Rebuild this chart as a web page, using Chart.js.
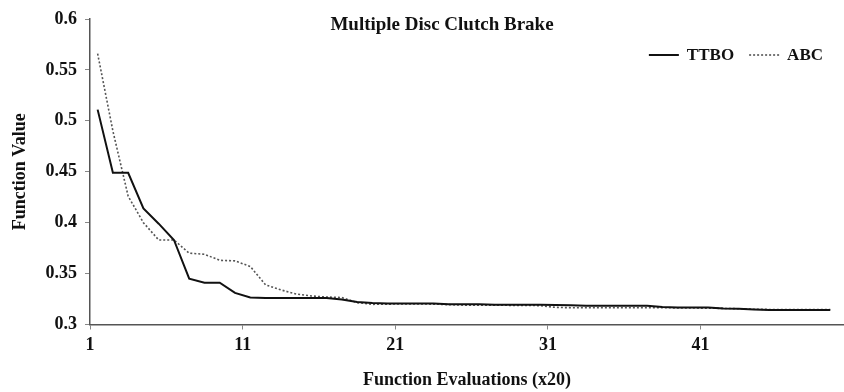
<!DOCTYPE html>
<html>
<head>
<meta charset="utf-8">
<script src="https://cdn.jsdelivr.net/npm/chart.js@4/dist/chart.umd.min.js"></script>
<style>
  html, body { margin: 0; padding: 0; background: #fff; }
  #wrap { width: 844px; height: 392px; position: relative; }
</style>
</head>
<body>
<div id="wrap"><canvas id="chart"></canvas></div>
<script>
// chart data
const chartTitle = 'Multiple Disc Clutch Brake';
const evaluations = [1, 2, 3, 4, 5, 6, 7, 8, 9, 10, 11, 12, 13, 14, 15, 16, 17, 18, 19, 20,
  21, 22, 23, 24, 25, 26, 27, 28, 29, 30, 31, 32, 33, 34, 35, 36, 37, 38, 39, 40,
  41, 42, 43, 44, 45, 46, 47, 48, 49];
const ttboValues = [0.511, 0.449, 0.449, 0.414, 0.399, 0.383, 0.345, 0.341, 0.341, 0.331,
  0.3265, 0.326, 0.326, 0.326, 0.326, 0.326, 0.3245, 0.322, 0.321, 0.3205,
  0.3205, 0.3205, 0.3205, 0.320, 0.3198, 0.3198, 0.3195, 0.3195, 0.3195, 0.3195,
  0.3192, 0.3188, 0.3185, 0.3185, 0.3185, 0.3185, 0.3183, 0.3172, 0.3168, 0.3168,
  0.3166, 0.3158, 0.3155, 0.3148, 0.3143, 0.3142, 0.3142, 0.3142, 0.3142];
const abcValues = [0.566, 0.490, 0.426, 0.400, 0.383, 0.383, 0.370, 0.369, 0.363, 0.3625,
  0.357, 0.339, 0.334, 0.330, 0.328, 0.327, 0.3265, 0.3215, 0.3198, 0.320,
  0.3202, 0.3202, 0.320, 0.3195, 0.319, 0.319, 0.319, 0.3188, 0.3188, 0.3185,
  0.3168, 0.3165, 0.3165, 0.3165, 0.3165, 0.3165, 0.3165, 0.3165, 0.3163, 0.3162,
  0.316, 0.3158, 0.3155, 0.315, 0.3148, 0.3148, 0.3148, 0.3148, 0.3148];
const xTickLabels = [1, 11, 21, 31, 41];
const yTickValues = [0.3, 0.35, 0.4, 0.45, 0.5, 0.55, 0.6];

const FONT = 'Liberation Serif, Times New Roman, serif';

// Excel style category axis: points sit half a step past their tick
const toPoints = vals => vals.map((v, i) => ({ x: evaluations[i] + 0.5, y: v }));

// title and legend both sit inside the plot area in the original,
// chart.js can't lay them out like that so they are drawn here
const insidePlugin = {
  id: 'inside',
  afterDraw(chart) {
    const { ctx, chartArea } = chart;
    ctx.save();
    ctx.font = 'bold 19px ' + FONT;
    ctx.fillStyle = '#111';
    ctx.textAlign = 'center';
    ctx.textBaseline = 'middle';
    ctx.fillText(chartTitle, (chartArea.left + chartArea.right) / 2 - 25, chartArea.top + 6);

    // legend, laid out from the right edge
    ctx.font = 'bold 17px ' + FONT;
    ctx.textAlign = 'left';
    const y = chartArea.top + 36;
    let x = chartArea.right - 21;
    const sets = chart.data.datasets.slice().reverse();
    sets.forEach(ds => {
      const w = ctx.measureText(ds.label).width;
      x -= w;
      ctx.fillStyle = '#111';
      ctx.fillText(ds.label, x, y + 1);
      x -= 8;
      ctx.beginPath();
      ctx.strokeStyle = ds.borderColor;
      ctx.lineWidth = ds.borderWidth;
      ctx.setLineDash(ds.borderDash || []);
      ctx.moveTo(x - 30, y);
      ctx.lineTo(x, y);
      ctx.stroke();
      x -= 30 + 15;
    });
    ctx.restore();
  }
};

const axisFont = { family: FONT, size: 18, weight: 'bold' };

new Chart(document.getElementById('chart'), {
  type: 'line',
  data: {
    datasets: [
      {
        label: 'TTBO',
        data: toPoints(ttboValues),
        borderColor: '#111',
        backgroundColor: '#111',
        borderWidth: 2,
        pointRadius: 0,
        tension: 0
      },
      {
        label: 'ABC',
        data: toPoints(abcValues),
        borderColor: '#555',
        backgroundColor: '#555',
        borderWidth: 1.6,
        borderDash: [2, 2],
        pointRadius: 0,
        tension: 0
      }
    ]
  },
  options: {
    responsive: true,
    maintainAspectRatio: false,
    animation: false,
    layout: { padding: { top: 19, right: 0, left: 0, bottom: 0 } },
    plugins: {
      legend: { display: false },
      tooltip: { enabled: false }
    },
    scales: {
      x: {
        type: 'linear',
        min: 1,
        max: 50.4,
        afterBuildTicks: s => { s.ticks = xTickLabels.map(v => ({ value: v })); },
        afterFit: s => { s.height = 67.5; },
        border: { color: '#555', width: 1.5 },
        grid: { drawOnChartArea: false, drawTicks: true, tickLength: 5, color: '#888' },
        ticks: { color: '#111', font: axisFont, padding: 5, maxRotation: 0, autoSkip: false },
        title: {
          display: true,
          text: 'Function Evaluations (x20)',
          color: '#111',
          font: axisFont,
          padding: { top: 0, bottom: 1 }
        }
      },
      y: {
        min: 0.3,
        max: 0.6,
        afterBuildTicks: s => { s.ticks = yTickValues.map(v => ({ value: v })); },
        afterFit: s => { s.width = 90; },
        border: { color: '#555', width: 1.5 },
        grid: { drawOnChartArea: false, drawTicks: true, tickLength: 5, color: '#888' },
        ticks: {
          color: '#111',
          font: axisFont,
          padding: 8,
          callback: v => String(+v.toFixed(2))
        },
        title: {
          display: true,
          text: 'Function Value',
          color: '#111',
          font: axisFont,
          padding: { top: 10, bottom: 0 }
        }
      }
    }
  },
  plugins: [insidePlugin]
});
</script>
</body>
</html>
